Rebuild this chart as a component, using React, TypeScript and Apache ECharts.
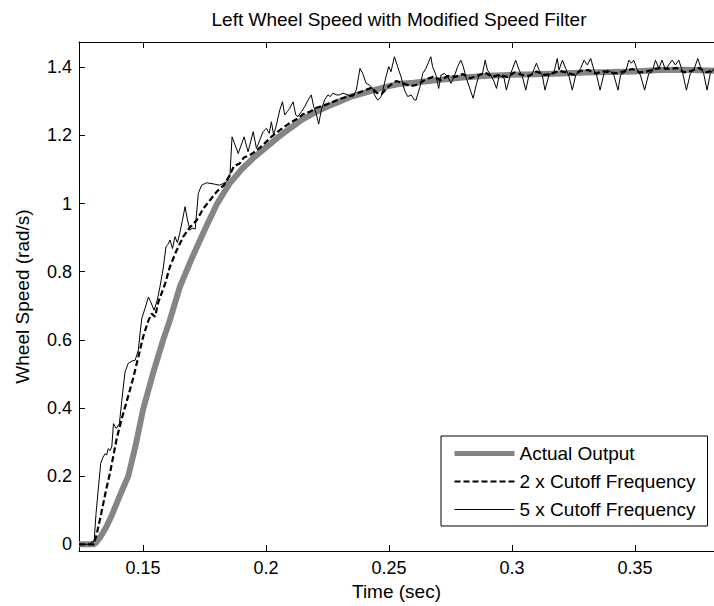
import React, { useEffect, useRef } from "react";
import * as echarts from "echarts";

const FONT = "'Liberation Sans', Arial, Helvetica, sans-serif";
const TITLE = "Left Wheel Speed with Modified Speed Filter";
const X_NAME = "Time (sec)";
const Y_NAME = "Wheel Speed (rad/s)";
const SERIES_NAMES = ["Actual Output", "2 x Cutoff Frequency", "5 x Cutoff Frequency"];

const X_MIN = 0.12398;
const X_MAX = 0.38211;
const Y_MIN = -0.0197;
const Y_MAX = 1.4743;

const xTicks = [0.15, 0.2, 0.25, 0.3, 0.35];
const yTicks = [0, 0.2, 0.4, 0.6, 0.8, 1.0, 1.2, 1.4];

// Actual Output (thick gray)
const actualT = [0.124, 0.13, 0.131, 0.133, 0.135, 0.137, 0.139, 0.141, 0.144, 0.147, 0.15, 0.154, 0.1582, 0.161, 0.165, 0.17, 0.175, 0.18, 0.185, 0.19, 0.195, 0.2, 0.205, 0.21, 0.215, 0.22, 0.225, 0.23, 0.235, 0.24, 0.245, 0.25, 0.255, 0.26, 0.27, 0.28, 0.29, 0.3, 0.31, 0.32, 0.33, 0.34, 0.35, 0.36, 0.37, 0.3822];
const actualV = [0, 0, 0.005, 0.025, 0.05, 0.08, 0.115, 0.15, 0.2, 0.29, 0.395, 0.5, 0.6, 0.66, 0.756, 0.842, 0.922, 0.998, 1.057, 1.1, 1.135, 1.165, 1.195, 1.222, 1.248, 1.268, 1.285, 1.3, 1.315, 1.325, 1.335, 1.345, 1.352, 1.355, 1.363, 1.37, 1.375, 1.378, 1.38, 1.382, 1.385, 1.386, 1.388, 1.392, 1.393, 1.39];

// 2 x Cutoff Frequency (dashed)
const cut2T = [0.124, 0.13, 0.1312, 0.133, 0.135, 0.1366, 0.1393, 0.1414, 0.1434, 0.1461, 0.1481, 0.1501, 0.1521, 0.1535, 0.1549, 0.1562, 0.159, 0.1609, 0.1635, 0.1663, 0.169, 0.1718, 0.1745, 0.1772, 0.18, 0.183, 0.1853, 0.187, 0.1893, 0.191, 0.1934, 0.196, 0.1988, 0.202, 0.205, 0.208, 0.21, 0.213, 0.215, 0.218, 0.22, 0.225, 0.23, 0.235, 0.24, 0.243, 0.245, 0.247, 0.25, 0.253, 0.256, 0.259, 0.262, 0.265, 0.268, 0.271, 0.274, 0.277, 0.28, 0.283, 0.286, 0.289, 0.292, 0.295, 0.298, 0.301, 0.304, 0.307, 0.31, 0.313, 0.316, 0.319, 0.322, 0.325, 0.328, 0.331, 0.334, 0.337, 0.34, 0.343, 0.346, 0.349, 0.352, 0.355, 0.358, 0.361, 0.364, 0.367, 0.37, 0.373, 0.376, 0.379, 0.3822];
const cut2V = [0, 0, 0.03, 0.09, 0.16, 0.21, 0.31, 0.37, 0.42, 0.49, 0.55, 0.61, 0.655, 0.677, 0.668, 0.71, 0.765, 0.814, 0.86, 0.902, 0.93, 0.951, 0.985, 1.01, 1.035, 1.055, 1.085, 1.11, 1.118, 1.135, 1.142, 1.155, 1.172, 1.195, 1.212, 1.228, 1.238, 1.25, 1.262, 1.27, 1.28, 1.292, 1.307, 1.318, 1.332, 1.34, 1.325, 1.322, 1.345, 1.36, 1.352, 1.345, 1.35, 1.365, 1.372, 1.362, 1.375, 1.372, 1.38, 1.368, 1.375, 1.385, 1.372, 1.378, 1.372, 1.385, 1.378, 1.375, 1.388, 1.378, 1.38, 1.39, 1.385, 1.378, 1.39, 1.392, 1.382, 1.388, 1.385, 1.382, 1.39, 1.395, 1.385, 1.388, 1.395, 1.398, 1.395, 1.398, 1.385, 1.39, 1.398, 1.385, 1.392];

// 5 x Cutoff Frequency (thin)
const cut5T = [0.124, 0.1285, 0.1292, 0.1298, 0.1302, 0.1309, 0.1319, 0.1328, 0.1337, 0.1346, 0.1352, 0.1359, 0.1366, 0.1373, 0.138, 0.1391, 0.1404, 0.1414, 0.1427, 0.144, 0.1455, 0.1468, 0.1481, 0.1488, 0.1495, 0.1508, 0.1522, 0.1531, 0.1545, 0.1558, 0.1569, 0.1583, 0.1593, 0.1601, 0.161, 0.162, 0.163, 0.164, 0.165, 0.166, 0.1671, 0.168, 0.1691, 0.17, 0.1712, 0.1725, 0.1738, 0.1758, 0.1785, 0.1812, 0.184, 0.1853, 0.1862, 0.1887, 0.1911, 0.1927, 0.1948, 0.1961, 0.1975, 0.1988, 0.2002, 0.2013, 0.2022, 0.2031, 0.2042, 0.2056, 0.2067, 0.2076, 0.2086, 0.2096, 0.211, 0.2121, 0.213, 0.2144, 0.2157, 0.2171, 0.2184, 0.2194, 0.2204, 0.2214, 0.2225, 0.2238, 0.2252, 0.2261, 0.2272, 0.2286, 0.2299, 0.2313, 0.2333, 0.2353, 0.2367, 0.2376, 0.2382, 0.2393, 0.2407, 0.242, 0.2434, 0.2441, 0.2454, 0.2468, 0.2475, 0.2488, 0.2499, 0.2508, 0.2522, 0.2535, 0.2549, 0.2563, 0.2576, 0.259, 0.2603, 0.261, 0.2616, 0.2626, 0.2637, 0.265, 0.267, 0.2677, 0.2691, 0.2702, 0.2711, 0.2725, 0.2738, 0.2752, 0.2765, 0.2779, 0.2792, 0.2802, 0.2812, 0.2826, 0.2842, 0.2856, 0.2866, 0.288, 0.2891, 0.29, 0.2914, 0.2927, 0.2937, 0.2948, 0.2968, 0.2977, 0.2995, 0.3015, 0.3029, 0.3042, 0.3056, 0.3069, 0.3083, 0.3099, 0.311, 0.3123, 0.3134, 0.315, 0.3171, 0.3184, 0.3191, 0.3205, 0.3218, 0.3232, 0.3245, 0.3259, 0.3279, 0.3293, 0.3306, 0.332, 0.3333, 0.3344, 0.3358, 0.3374, 0.3387, 0.3401, 0.3414, 0.3431, 0.3441, 0.3462, 0.3475, 0.3485, 0.3495, 0.3509, 0.3522, 0.3539, 0.3556, 0.357, 0.3583, 0.3597, 0.361, 0.3624, 0.3637, 0.3651, 0.3664, 0.3678, 0.3691, 0.3709, 0.3725, 0.3739, 0.3755, 0.3766, 0.3779, 0.3793, 0.3806, 0.3822];
const cut5V = [0, 0, 0.008, 0.006, 0.015, 0.09, 0.168, 0.237, 0.255, 0.266, 0.262, 0.281, 0.275, 0.286, 0.354, 0.34, 0.354, 0.423, 0.506, 0.531, 0.538, 0.54, 0.57, 0.619, 0.663, 0.692, 0.726, 0.712, 0.687, 0.717, 0.756, 0.814, 0.873, 0.88, 0.893, 0.868, 0.903, 0.885, 0.915, 0.95, 0.991, 0.955, 0.922, 0.928, 0.925, 1.03, 1.054, 1.061, 1.058, 1.054, 1.064, 1.079, 1.196, 1.147, 1.196, 1.152, 1.211, 1.162, 1.187, 1.211, 1.221, 1.206, 1.24, 1.201, 1.23, 1.275, 1.299, 1.26, 1.27, 1.279, 1.299, 1.26, 1.255, 1.27, 1.284, 1.304, 1.319, 1.284, 1.265, 1.233, 1.275, 1.304, 1.319, 1.314, 1.324, 1.319, 1.319, 1.324, 1.319, 1.314, 1.333, 1.372, 1.397, 1.382, 1.353, 1.348, 1.338, 1.319, 1.304, 1.314, 1.333, 1.373, 1.402, 1.387, 1.431, 1.402, 1.372, 1.333, 1.314, 1.319, 1.304, 1.304, 1.319, 1.343, 1.382, 1.397, 1.431, 1.402, 1.377, 1.338, 1.377, 1.382, 1.373, 1.353, 1.373, 1.402, 1.421, 1.402, 1.373, 1.343, 1.309, 1.353, 1.377, 1.382, 1.421, 1.392, 1.377, 1.358, 1.338, 1.377, 1.368, 1.333, 1.382, 1.421, 1.392, 1.373, 1.333, 1.377, 1.382, 1.412, 1.392, 1.377, 1.333, 1.377, 1.387, 1.426, 1.392, 1.421, 1.397, 1.373, 1.333, 1.377, 1.397, 1.421, 1.407, 1.426, 1.392, 1.377, 1.333, 1.382, 1.392, 1.387, 1.377, 1.333, 1.377, 1.387, 1.421, 1.412, 1.421, 1.392, 1.377, 1.333, 1.382, 1.387, 1.421, 1.397, 1.421, 1.392, 1.407, 1.421, 1.407, 1.421, 1.392, 1.333, 1.382, 1.392, 1.426, 1.402, 1.382, 1.333, 1.382, 1.397];

const zip = (t: number[], v: number[]) => t.map((x, i) => [x, v[i]]);
const fmt = (v: number) => String(parseFloat(Number(v).toFixed(2)));

export default function App() {
  const ref = useRef<HTMLDivElement>(null);
  useEffect(() => {
    if (!ref.current) return;
    const chart = echarts.init(ref.current, undefined, { renderer: "svg" });
    const axisLineStyle = { color: "#000", width: 1 };
    const option: any = {
      animation: false,
      backgroundColor: "#ffffff",
      textStyle: { fontFamily: FONT },
      title: {
        text: TITLE,
        left: 399,
        top: 10,
        textAlign: "center",
        padding: 0,
        textStyle: { fontSize: 19, fontWeight: "normal", color: "#000", fontFamily: FONT },
      },
      grid: { left: 79, top: 42, right: 0, bottom: 55, containLabel: false },
      legend: {
        data: [
          { name: SERIES_NAMES[0], lineStyle: { width: 5, color: "#858585" } },
          { name: SERIES_NAMES[1], lineStyle: { width: 2, color: "#000", type: [6, 3] } },
          { name: SERIES_NAMES[2], lineStyle: { width: 1, color: "#000" } },
        ],
        orient: "vertical",
        left: 441,
        top: 436,
        padding: [8, 12, 7, 11],
        itemGap: 9,
        itemWidth: 60,
        itemHeight: 19,
        backgroundColor: "#fff",
        borderColor: "#000",
        borderWidth: 1,
        borderRadius: 0,
        selectedMode: false,
        itemStyle: { opacity: 0 },
        textStyle: { fontSize: 19, color: "#000", fontFamily: FONT },
      },
      xAxis: [
        {
          type: "value",
          position: "bottom",
          min: X_MIN,
          max: X_MAX,
          name: X_NAME,
          nameLocation: "middle",
          nameGap: 31,
          nameTextStyle: { fontSize: 19, color: "#000", fontFamily: FONT },
          axisLine: { show: true, onZero: false, lineStyle: axisLineStyle },
          axisTick: { show: true, inside: true, length: 6, customValues: xTicks, lineStyle: axisLineStyle },
          axisLabel: { customValues: xTicks, formatter: fmt, fontSize: 18, color: "#000", margin: 8, fontFamily: FONT },
          splitLine: { show: false },
        },
        {
          type: "value",
          position: "top",
          min: X_MIN,
          max: X_MAX,
          axisLine: { show: true, onZero: false, lineStyle: axisLineStyle },
          axisTick: { show: true, inside: true, length: 6, customValues: xTicks, lineStyle: axisLineStyle },
          axisLabel: { show: false },
          splitLine: { show: false },
        },
      ],
      yAxis: {
        type: "value",
        min: Y_MIN,
        max: Y_MAX,
        name: Y_NAME,
        nameLocation: "middle",
        nameGap: 47,
        nameRotate: 90,
        nameTextStyle: { fontSize: 19, color: "#000", fontFamily: FONT },
        axisLine: { show: true, onZero: false, lineStyle: axisLineStyle },
        axisTick: { show: true, inside: true, length: 6, customValues: yTicks, lineStyle: axisLineStyle },
        axisLabel: { customValues: yTicks, formatter: fmt, fontSize: 18, color: "#000", margin: 7, fontFamily: FONT },
        splitLine: { show: false },
      },
      series: [
        {
          name: SERIES_NAMES[0],
          type: "line",
          data: zip(actualT, actualV),
          symbol: "none",
          xAxisIndex: 0,
          lineStyle: { color: "#858585", width: 6 },
          itemStyle: { color: "#858585" },
          z: 1,
        },
        {
          name: SERIES_NAMES[1],
          type: "line",
          data: zip(cut2T, cut2V),
          symbol: "none",
          xAxisIndex: 0,
          lineStyle: { color: "#000", width: 2.2, type: [6, 3] },
          itemStyle: { color: "#000" },
          z: 2,
        },
        {
          name: SERIES_NAMES[2],
          type: "line",
          data: zip(cut5T, cut5V),
          symbol: "none",
          xAxisIndex: 0,
          lineStyle: { color: "#000", width: 1 },
          itemStyle: { color: "#000" },
          z: 3,
        },
      ],
    };
    chart.setOption(option);
    return () => chart.dispose();
  }, []);
  return (
    <div
      ref={ref}
      style={{ position: "fixed", left: 0, top: 0, width: 714, height: 606, background: "#fff" }}
    />
  );
}
